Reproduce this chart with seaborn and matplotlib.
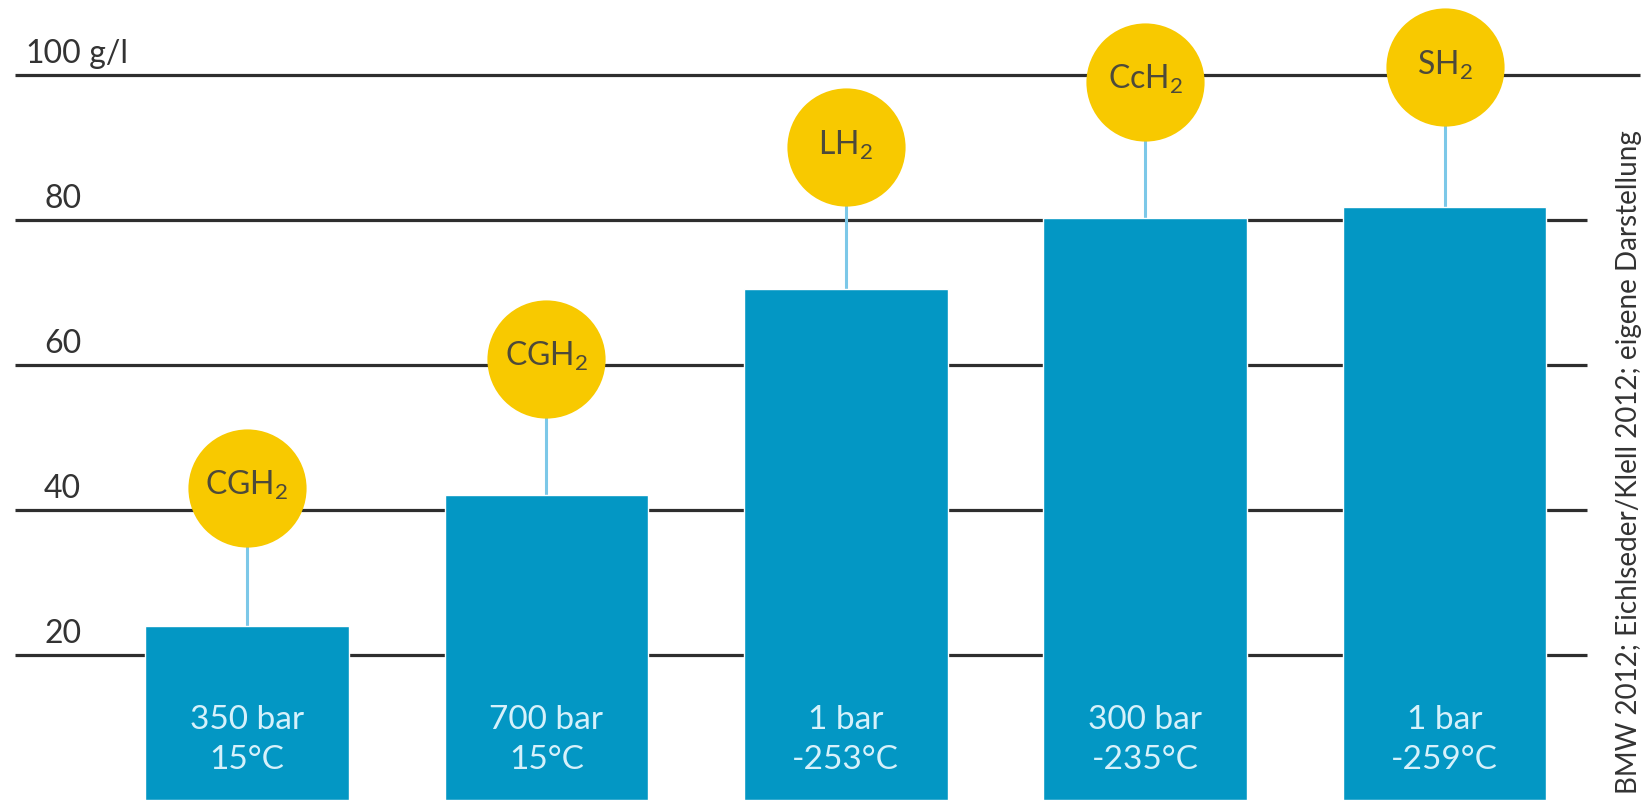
import matplotlib
matplotlib.use("Agg")
import matplotlib.pyplot as plt
import seaborn as sns
import pandas as pd

# Volumetric hydrogen density by storage form (g/l)
forms = ["CGH$_2$", "CGH$_2$", "LH$_2$", "CcH$_2$", "SH$_2$"]
conditions = ["350 bar\n15°C", "700 bar\n15°C", "1 bar\n-253°C", "300 bar\n-235°C", "1 bar\n-259°C"]
density = [24, 42, 70.5, 80.3, 81.8]
badge_level = [43, 60.8, 90, 99, 101]
grid_values = [20, 40, 60, 80, 100]
grid_labels = ["20", "40", "60", "80", "100"]
unit = "g/l"
source = "BMW 2012; Eichlseder/Klell 2012; eigene Darstellung"

BAR = "#0397c4"
YELLOW = "#f8c900"
STEM = "#7cc8e8"
GRID = "#2e2e2e"
BAR_TEXT = "#d6f1fb"
BADGE_TEXT = "#4d4a3a"

sns.set_theme(style="white")
plt.rcParams["font.family"] = ["Lato", "DejaVu Sans"]
plt.rcParams["mathtext.default"] = "regular"

df = pd.DataFrame({"idx": list(range(len(density))), "density": density})

fig = plt.figure(figsize=(16.44, 8), dpi=100)
ax = fig.add_axes([0, 0, 1, 1])

# horizontal reference lines behind the bars, numbers right-aligned above them
for v, lab in zip(grid_values, grid_labels):
    right = 4.653 if v == 100 else 4.476
    ax.hlines(v, -0.775, right, color=GRID, lw=2.3, zorder=1)
    ax.text(-0.554, v + 1.66, lab, ha="right", va="baseline",
            fontsize=23, color="#333333", zorder=2)
    if v == max(grid_values):
        ax.text(-0.554, v + 1.66, " " + unit, ha="left", va="baseline",
                fontsize=23, color="#333333", zorder=2)

sns.barplot(data=df, x="idx", y="density", color=BAR, saturation=1,
            width=0.68, ax=ax, zorder=3)

# stems from bar tops to the badges
ax.vlines(df["idx"], density, badge_level, color=STEM, lw=2.2, zorder=2)

badges = pd.DataFrame({"idx": df["idx"], "level": badge_level})
sns.scatterplot(data=badges, x="idx", y="level", s=118 ** 2 * 0.52,
                color=YELLOW, linewidth=0, ax=ax, zorder=4, legend=False)

for i, (f, lvl) in enumerate(zip(forms, badge_level)):
    ax.text(i, lvl + 0.3, f, ha="center", va="center", fontsize=23,
            color=BADGE_TEXT, zorder=5)

for i, c in enumerate(conditions):
    ax.text(i, 8.3, c, ha="center", va="center", fontsize=24,
            color=BAR_TEXT, linespacing=1.4, zorder=5)

ax.text(4.616, 46.6, source, rotation=90, ha="center", va="center",
        fontsize=20, color="#333333")

ax.set_xlim(-0.825, 4.666)
ax.set_ylim(0, 110.3)
ax.set_xlabel("")
ax.set_ylabel("")
ax.axis("off")

fig.savefig("out.png", dpi=100, facecolor="white")
